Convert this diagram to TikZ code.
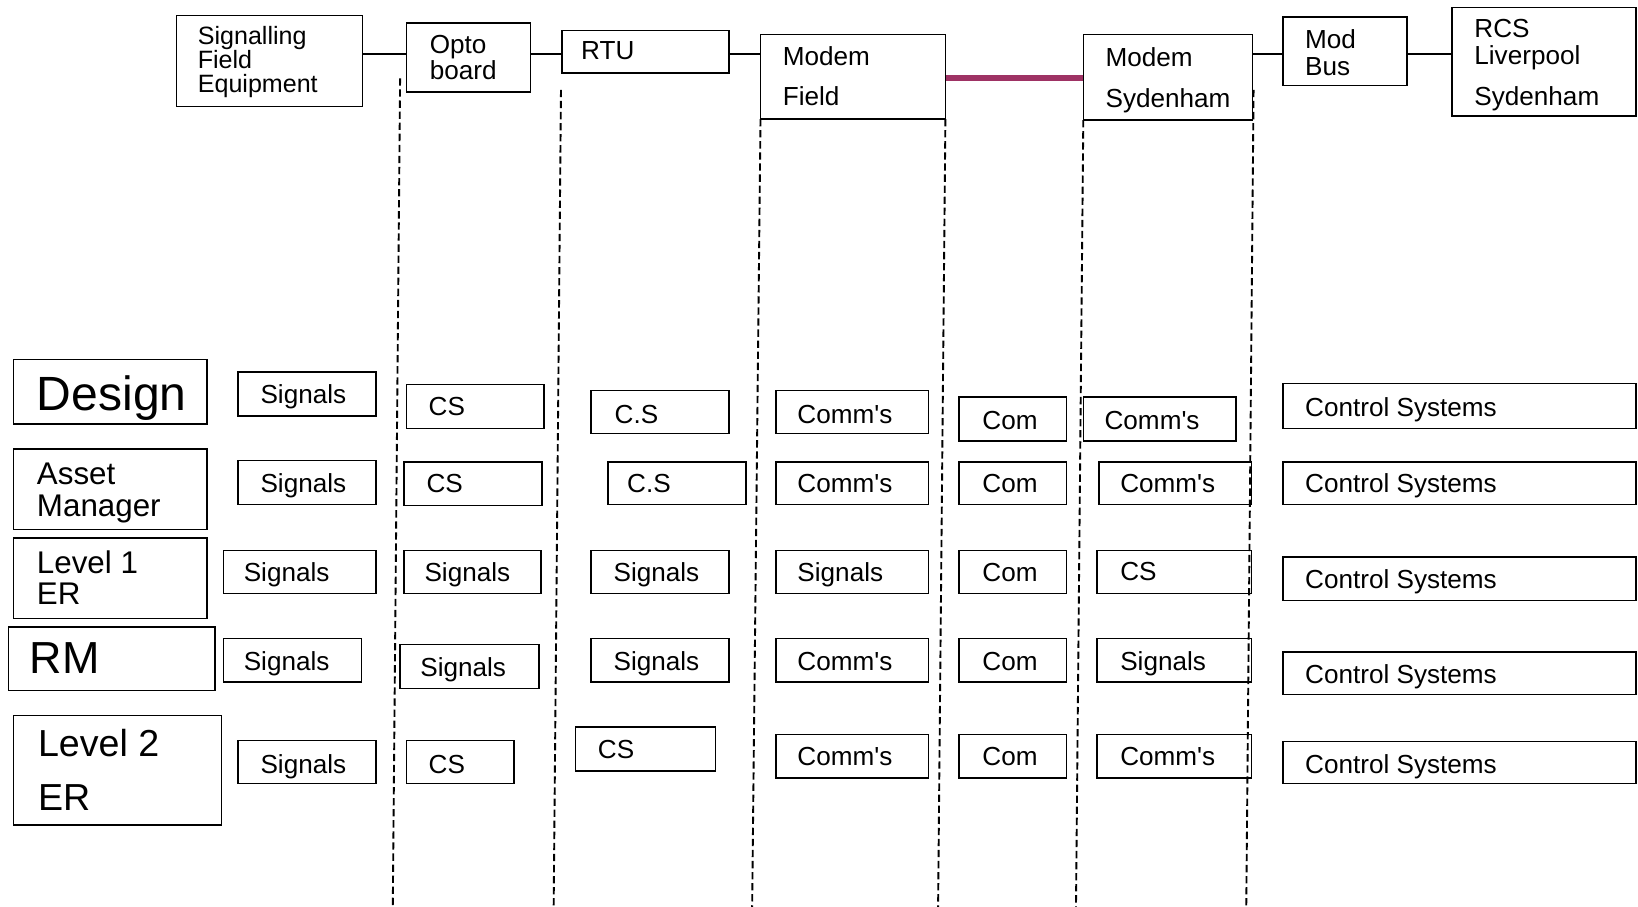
\documentclass[tikz,border=0pt]{standalone}
\usepackage{fontspec}
\setmainfont{Liberation Sans}
% a rectangle given by its corners (x1,y1) and (x2,y2), y measured downwards
\newcommand{\cellbox}[5]{%
  \node[box, minimum width={(#4-#2)*0.5pt}, minimum height={(#5-#3)*0.5pt}]
    (#1) at ({(#2+#4)/2},{(#3+#5)/2}) {};}
% a text line whose baseline starts at (x,y)
\newcommand{\lab}[5][]{\node[lbl,#1] (#2) at (#3,#4) {#5};}
\newcommand{\ap}{\textquotesingle}
\begin{document}
\begin{tikzpicture}[x=0.5pt,y=-0.5pt,
  box/.style={draw, line width=0.75pt, rectangle, inner sep=0pt},
  lbl/.style={anchor=base west, inner sep=0pt, font=\fontsize{12.5}{15}\selectfont},
  small/.style={font=\fontsize{12}{14}\selectfont},
  mid/.style={font=\fontsize{15}{18}\selectfont},
  big/.style={font=\fontsize{21.5}{25}\selectfont},
  huge/.style={font=\fontsize{23}{27}\selectfont},
  large/.style={font=\fontsize{18}{21}\selectfont},
  wire/.style={line width=0.8pt},
  radio/.style={line width=3pt, draw={rgb,255:red,158;green,50;blue,100}},
  divider/.style={line width=0.9pt, dash pattern=on 3.5pt off 1.8pt}]
\useasboundingbox (0,0) rectangle (1568,868);

% ---------------- signal chain ----------------
\cellbox{sfe}{169}{15}{347}{102}
\lab[small]{sfe1}{189}{43}{Signalling}
\lab[small]{sfe2}{189}{66}{Field}
\lab[small]{sfe3}{189}{89}{Equipment}
\cellbox{opto}{389}{22}{508}{88}
\lab{opto1}{411}{51}{Opto}
\lab{opto2}{411}{76}{board}
\cellbox{rtu}{538}{29}{698}{70}
\lab{rtu1}{556}{57}{RTU}
\cellbox{mfield}{728}{33}{905}{114}
\lab{mf1}{749}{63}{Modem}
\lab{mf2}{749}{101}{Field}
\cellbox{msyd}{1037}{33}{1199}{115}
\lab{ms1}{1058}{64}{Modem}
\lab{ms2}{1058}{103}{Sydenham}
\cellbox{modbus}{1228}{16}{1347}{82}
\lab{mb1}{1249}{46}{Mod}
\lab{mb2}{1249}{72}{Bus}
\cellbox{rcs}{1390}{7}{1566}{111}
\lab{rcs1}{1411}{36}{RCS}
\lab{rcs2}{1411}{62}{Liverpool}
\lab{rcs3}{1411}{101}{Sydenham}

\coordinate (bus) at (0,52);
\coordinate (link) at (0,75);
\draw[wire] (sfe.east |- bus) -- (opto.west |- bus);
\draw[wire] (opto.east |- bus) -- (rtu.west |- bus);
\draw[wire] (rtu.east |- bus) -- (mfield.west |- bus);
\draw[radio] (mfield.east |- link) -- (msyd.west |- link);
\draw[wire] (msyd.east |- bus) -- (modbus.west |- bus);
\draw[wire] (modbus.east |- bus) -- (rcs.west |- bus);

% ---------------- column dividers ----------------
\coordinate (v1t) at (383,75);   \coordinate (v1b) at (376,868);
\coordinate (v2t) at (537,86);   \coordinate (v2b) at (530,868);
\coordinate (v3t) at (728,114);  \coordinate (v3b) at (720,868);
\coordinate (v4t) at (905,114);  \coordinate (v4b) at (898,868);
\coordinate (v5t) at (1037,115); \coordinate (v5b) at (1030,868);
\coordinate (v6t) at (1200,86);  \coordinate (v6b) at (1193,868);
\foreach \i in {1,...,6} \draw[divider] (v\i t) -- (v\i b);

% ---------------- Design ----------------
\cellbox{des}{13}{344}{198}{406} \lab[huge]{dest}{35}{393}{Design}
\cellbox{s1}{228}{356}{360}{398} \lab{s1t}{249}{386}{Signals}
\cellbox{o1}{389}{368}{521}{410} \lab{o1t}{410}{398}{CS}
\cellbox{r1}{566}{374}{698}{415} \lab{r1t}{588}{405}{C.S}
\cellbox{f1}{743}{374}{889}{415} \lab{f1t}{763}{405}{Comm\ap s}
\cellbox{c1}{918}{380}{1021}{422} \lab{c1t}{940}{411}{Com}
\cellbox{y1}{1037}{380}{1183}{422} \lab{y1t}{1057}{411}{Comm\ap s}
\cellbox{k1}{1228}{367}{1566}{410} \lab{k1t}{1249}{399}{Control Systems}

% ---------------- Asset Manager ----------------
\cellbox{am}{13}{430}{198}{507}
\lab[mid]{am1}{35}{464}{Asset} \lab[mid]{am2}{35}{494}{Manager}
\cellbox{s2}{228}{441}{360}{483} \lab{s2t}{249}{471}{Signals}
\cellbox{o2}{387}{442}{519}{484} \lab{o2t}{408}{471}{CS}
\cellbox{r2}{582}{442}{714}{483} \lab{r2t}{600}{471}{C.S}
\cellbox{f2}{743}{442}{889}{483} \lab{f2t}{763}{471}{Comm\ap s}
\cellbox{c2}{918}{442}{1021}{483} \lab{c2t}{940}{471}{Com}
\cellbox{y2}{1052}{442}{1198}{483} \lab{y2t}{1072}{471}{Comm\ap s}
\cellbox{k2}{1228}{442}{1566}{483} \lab{k2t}{1249}{471}{Control Systems}

% ---------------- Level 1 ER ----------------
\cellbox{l1}{13}{515}{198}{592}
\lab[mid]{l1a}{35}{549}{Level 1} \lab[mid]{l1b}{35}{579}{ER}
\cellbox{s3}{214}{527}{360}{568} \lab{s3t}{233}{557}{Signals}
\cellbox{o3}{387}{527}{518}{568} \lab{o3t}{406}{557}{Signals}
\cellbox{r3}{566}{527}{698}{568} \lab{r3t}{587}{557}{Signals}
\cellbox{f3}{743}{527}{889}{568} \lab{f3t}{763}{557}{Signals}
\cellbox{c3}{918}{527}{1021}{568} \lab{c3t}{940}{557}{Com}
\cellbox{y3}{1050}{527}{1198}{568} \lab{y3t}{1072}{556}{CS}
\cellbox{k3}{1228}{533}{1566}{575} \lab{k3t}{1249}{563}{Control Systems}

% ---------------- RM ----------------
\cellbox{rm}{8}{600}{206}{661} \lab[big]{rmt}{28}{645}{RM}
\cellbox{s4}{214}{611}{346}{653} \lab{s4t}{233}{642}{Signals}
\cellbox{o4}{383}{617}{516}{659} \lab{o4t}{402}{648}{Signals}
\cellbox{r4}{566}{611}{698}{653} \lab{r4t}{587}{642}{Signals}
\cellbox{f4}{743}{611}{889}{653} \lab{f4t}{763}{642}{Comm\ap s}
\cellbox{c4}{918}{611}{1021}{653} \lab{c4t}{940}{642}{Com}
\cellbox{y4}{1050}{611}{1198}{653} \lab{y4t}{1072}{642}{Signals}
\cellbox{k4}{1228}{624}{1566}{665} \lab{k4t}{1249}{654}{Control Systems}

% ---------------- Level 2 ER ----------------
\cellbox{l2}{13}{685}{212}{790}
\lab[large]{l2a}{36}{724}{Level 2} \lab[large]{l2b}{36}{776}{ER}
\cellbox{s5}{228}{709}{360}{750} \lab{s5t}{249}{740}{Signals}
\cellbox{o5}{389}{709}{492}{750} \lab{o5t}{410}{740}{CS}
\cellbox{r5}{551}{696}{685}{738} \lab{r5t}{572}{726}{CS}
\cellbox{f5}{743}{703}{889}{745} \lab{f5t}{763}{733}{Comm\ap s}
\cellbox{c5}{918}{703}{1021}{745} \lab{c5t}{940}{733}{Com}
\cellbox{y5}{1050}{703}{1198}{745} \lab{y5t}{1072}{733}{Comm\ap s}
\cellbox{k5}{1228}{710}{1566}{750} \lab{k5t}{1249}{740}{Control Systems}
\end{tikzpicture}
\end{document}
